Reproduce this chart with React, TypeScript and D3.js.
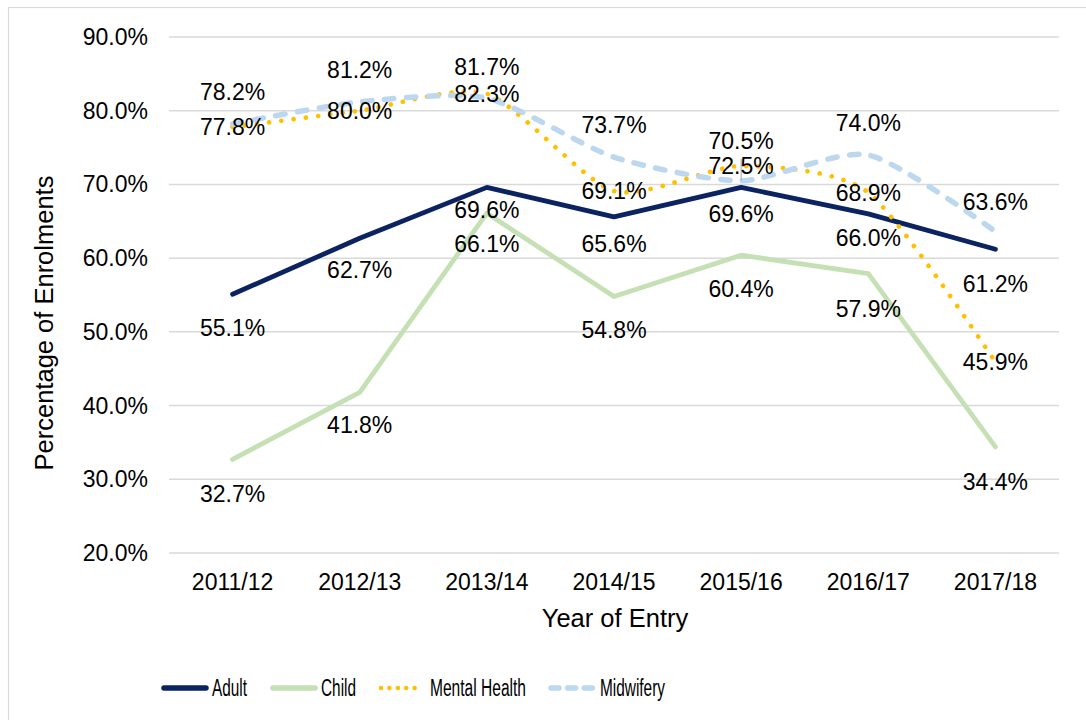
import React from "react";
import * as d3 from "d3";

const categories = ["2011/12", "2012/13", "2013/14", "2014/15", "2015/16", "2016/17", "2017/18"];
const adult = [55.1, 62.7, 69.6, 65.6, 69.6, 66.0, 61.2];
const child = [32.7, 41.8, 66.1, 54.8, 60.4, 57.9, 34.4];
const mentalHealth = [77.8, 80.0, 82.3, 69.1, 72.5, 68.9, 45.9];
const midwifery = [78.2, 81.2, 81.7, 73.7, 70.5, 74.0, 63.6];
const yTicks = [20, 30, 40, 50, 60, 70, 80, 90];

// label vertical offsets (px) relative to each point, per series
const adultLabelDy = [34, 32, 23, 27, 27, 24, 35];
const childLabelDy = [35, 33, 31, 34, 34, 35, 35];
const mhLabelDy = [0, 0, 0, 0, 0, 0, 0];
const mwLabelDy = [-32, -32, -31, -32, -40, -32, -30];

const W = 1086;
const H = 720;
const FONT = "'Liberation Sans', Arial, sans-serif";

type Series = {
  name: string;
  values: number[];
  color: string;
  width: number;
  dash?: string;
  smooth: boolean;
  dy: number[];
  legendDash?: string;
  legendWidth: number;
  legendX: number;
  legendTextX: number;
  legendTextW: number;
};

const series: Series[] = [
  { name: "Adult", values: adult, color: "#0b2360", width: 4.8, smooth: false, dy: adultLabelDy, legendWidth: 5.5, legendX: 162, legendTextX: 212, legendTextW: 35 },
  { name: "Child", values: child, color: "#c5e0b4", width: 4.8, smooth: false, dy: childLabelDy, legendWidth: 5.5, legendX: 271, legendTextX: 321, legendTextW: 35 },
  { name: "Mental Health", values: mentalHealth, color: "#ffc000", width: 4.7, dash: "0.01 12.3", smooth: true, dy: mhLabelDy, legendDash: "0.01 8.4", legendWidth: 4.6, legendX: 379, legendTextX: 430, legendTextW: 96 },
  { name: "Midwifery", values: midwifery, color: "#bdd7ee", width: 5.5, dash: "9.5 12.5", smooth: true, dy: mwLabelDy, legendDash: "8 8.6", legendWidth: 5.5, legendX: 549, legendTextX: 600, legendTextW: 65 },
];

export default function App() {
  const x = d3.scalePoint<string>().domain(categories).range([169, 1059]).padding(0.5);
  const y = d3.scaleLinear().domain([20, 90]).range([553, 37]);

  const straight = d3.line<number>().x((_, i) => x(categories[i]) as number).y((d) => y(d));
  const smooth = d3
    .line<number>()
    .x((_, i) => x(categories[i]) as number)
    .y((d) => y(d))
    .curve(d3.curveCardinal.tension(0.3));

  const fmt = (v: number) => v.toFixed(1) + "%";

  return (
    <svg width={W} height={H} style={{ position: "absolute", left: 0, top: 0, background: "#fff" }} fontFamily={FONT}>
      <rect x={8.5} y={7.5} width={W + 20} height={H + 20} fill="#fff" stroke="#d9d9d9" strokeWidth={1.2} />

      {/* gridlines */}
      {yTicks.map((t) => (
        <line key={"g" + t} x1={169} x2={1059} y1={y(t)} y2={y(t)} stroke="#d9d9d9" strokeWidth={1.5} />
      ))}

      {/* y tick labels */}
      {yTicks.map((t) => (
        <text key={"yt" + t} x={148} y={y(t) + 8} textAnchor="end" fontSize={23} fill="#000">
          {t.toFixed(1) + "%"}
        </text>
      ))}

      {/* x tick labels */}
      {categories.map((c) => (
        <text key={"xt" + c} x={x(c)} y={590} textAnchor="middle" fontSize={23} fill="#000">
          {c}
        </text>
      ))}

      {/* axis titles */}
      <text x={615} y={627} textAnchor="middle" fontSize={25.5} fill="#000">
        Year of Entry
      </text>
      <text transform={`translate(53,323) rotate(-90)`} textAnchor="middle" fontSize={25.5} fill="#000">
        Percentage of Enrolments
      </text>

      {/* lines */}
      {series.map((s) => (
        <path
          key={"l" + s.name}
          d={(s.smooth ? smooth : straight)(s.values) || ""}
          fill="none"
          stroke={s.color}
          strokeWidth={s.width}
          strokeDasharray={s.dash}
          strokeLinecap="round"
          strokeLinejoin="round"
        />
      ))}

      {/* leader line for moved label */}
      <line
        x1={x(categories[4])}
        x2={x(categories[4])}
        y1={y(midwifery[4])}
        y2={y(midwifery[4]) - 22}
        stroke="#a6a6a6"
        strokeWidth={1}
      />

      {/* data labels */}
      {series.map((s) =>
        s.values.map((v, i) => (
          <text
            key={"dl" + s.name + i}
            x={x(categories[i])}
            y={y(v) + s.dy[i] + 8}
            textAnchor="middle"
            fontSize={23}
            fill="#000"
          >
            {fmt(v)}
          </text>
        ))
      )}

      {/* legend */}
      {series.map((s) => (
        <g key={"lg" + s.name}>
          <line
            x1={s.legendX + 2}
            x2={s.legendX + 44}
            y1={688}
            y2={688}
            stroke={s.color}
            strokeWidth={s.legendWidth}
            strokeDasharray={s.legendDash}
            strokeLinecap="round"
          />
          <text x={s.legendTextX} y={696} fontSize={23.5} fill="#000" textLength={s.legendTextW} lengthAdjust="spacingAndGlyphs">
            {s.name}
          </text>
        </g>
      ))}
    </svg>
  );
}
